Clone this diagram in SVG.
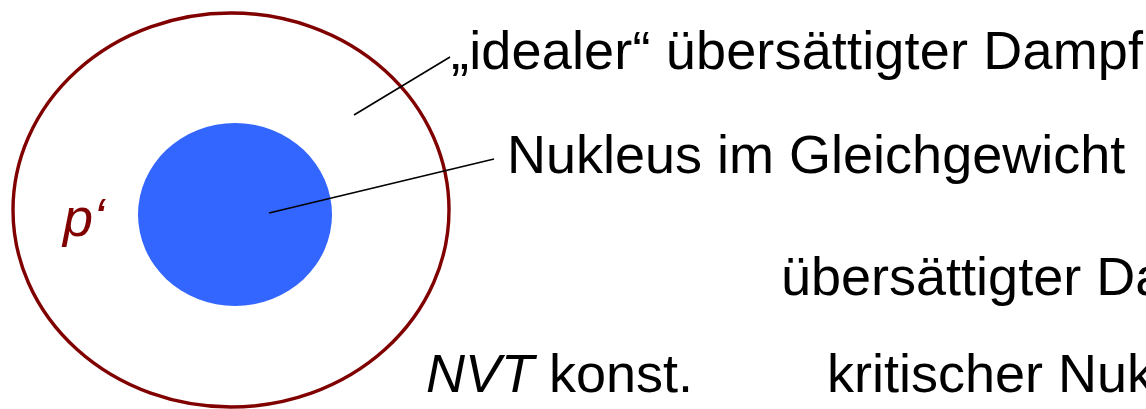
<svg xmlns="http://www.w3.org/2000/svg" width="1146" height="409" viewBox="0 0 1146 409">
<style>
.t{font-family:"Liberation Sans",Arial,sans-serif;font-size:54px;fill:#000}
.i{font-style:italic}
.lead{stroke:#000;stroke-width:1.6;fill:none}
</style>
<rect width="1146" height="409" fill="#fff"/>
<g id="vapor">
<ellipse cx="231" cy="210" rx="218" ry="197" fill="none" stroke="#800000" stroke-width="3.4"/>
<text x="63" y="236" class="t i" style="fill:#800000">p‘</text>
</g>
<g id="nucleus">
<ellipse cx="235" cy="214.5" rx="97" ry="91.5" fill="#3366FF"/>
</g>
<g id="connectors">
<line class="lead" x1="354" y1="115" x2="450" y2="57"/>
<line class="lead" x1="269" y1="213" x2="494" y2="159"/>
</g>
<g id="labels">
<text x="451" y="69" class="t" textLength="692">„idealer“ übersättigter Dampf</text>
<text x="507" y="173" class="t">Nukleus im Gleichgewicht</text>
<text x="781" y="295" class="t">übersättigter Da</text>
<text x="426" y="392" class="t"><tspan class="i">NVT</tspan> konst.</text>
<text x="827" y="392" class="t">kritischer Nuk</text>
</g>
</svg>
